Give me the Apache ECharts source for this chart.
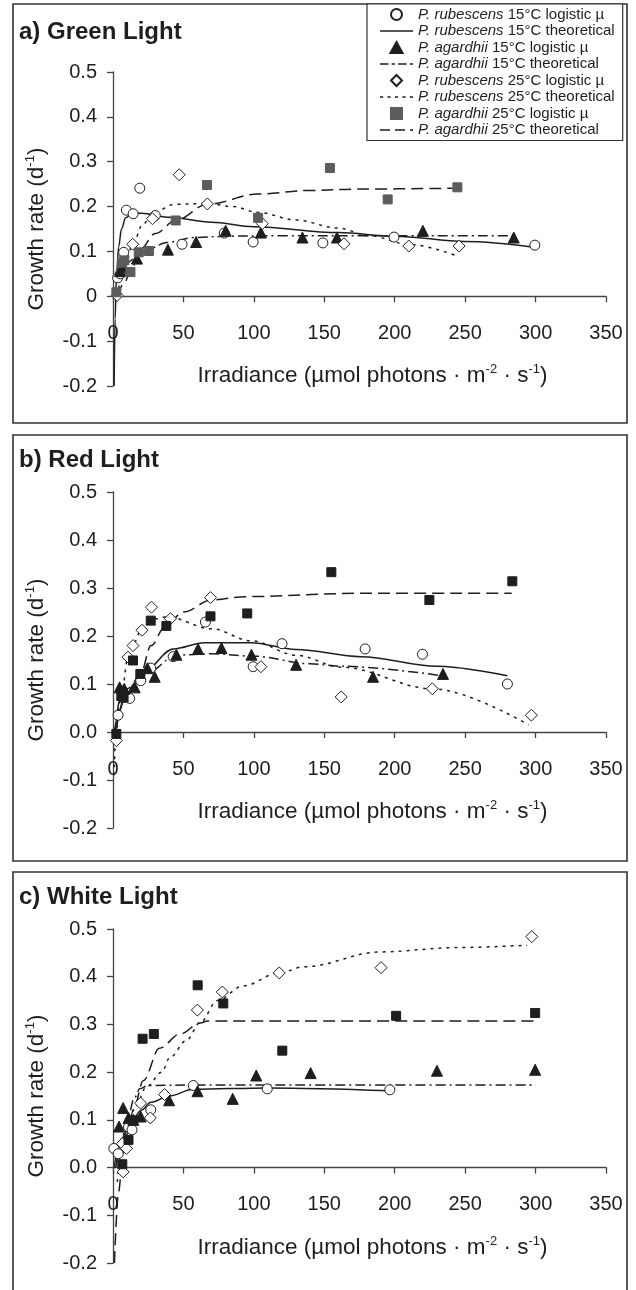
<!DOCTYPE html>
<html><head><meta charset="utf-8">
<script src="https://cdn.jsdelivr.net/npm/echarts@6/dist/echarts.min.js"></script>
<style>html,body{margin:0;padding:0;background:#fff}#c{width:636px;height:1290px}</style>
</head><body><div id="c"></div>
<script>
const FONT = "'Liberation Sans', Arial, Helvetica, sans-serif";
const INK = '#1e1e1e';

const panelTitles = ['a) Green Light', 'b) Red Light', 'c) White Light'];
const seriesNames = [
  'P. rubescens 15°C logistic µ', 'P. rubescens 15°C theoretical',
  'P. agardhii 15°C logistic µ', 'P. agardhii 15°C theoretical',
  'P. rubescens 25°C logistic µ', 'P. rubescens 25°C theoretical',
  'P. agardhii 25°C logistic µ', 'P. agardhii 25°C theoretical'
];
const xMin = 0, xMax = 350, xStep = 50;
const yMin = -0.2, yMax = 0.5, yStep = 0.1;

// ---- a) Green light ----
const greenRub15 = [[3.3,0.041],[5.2,0.05],[7.6,0.098],[9.5,0.192],[14.3,0.184],[19,0.241],[30,0.18],[49,0.116],[79,0.141],[99.5,0.121],[149,0.119],[199.5,0.132],[299.5,0.114]];
const greenAg15 = [[5,0.056],[7,0.065],[17,0.084],[39,0.104],[59,0.121],[80,0.146],[105,0.142],[134.5,0.131],[159,0.131],[220,0.146],[284.5,0.131]];
const greenRub25 = [[3,0.002],[14,0.116],[28,0.173],[47,0.271],[67,0.206],[106,0.162],[164,0.117],[210,0.112],[245.7,0.112]];
const greenAg25 = [[2.4,0.009],[6.4,0.075],[8,0.08],[12.4,0.054],[18.3,0.098],[25.5,0.101],[44.5,0.169],[66.7,0.248],[103,0.175],[154,0.286],[195,0.216],[244.5,0.243]];
const greenRub15Fit = [[0.8,-0.2],[1.5,-0.05],[2.5,0.05],[4,0.11],[6,0.15],[9,0.175],[14,0.186],[20,0.185],[40,0.176],[70,0.165],[100,0.155],[160,0.142],[200,0.134],[250,0.122],[300,0.109]];
const greenAg15Fit = [[3,0.03],[6,0.06],[10,0.075],[17,0.088],[25,0.105],[38,0.12],[58,0.131],[80,0.134],[120,0.135],[200,0.135],[285,0.135]];
const greenRub25Fit = [[3,0.0],[7,0.05],[14,0.115],[21,0.16],[29,0.188],[44,0.205],[67,0.207],[85,0.2],[103,0.187],[130,0.17],[160,0.152],[182,0.135],[210,0.116],[245,0.089]];
const greenAg25Fit = [[3,0.0],[8,0.03],[12.4,0.055],[19.5,0.105],[30,0.14],[44.5,0.169],[67,0.205],[103,0.228],[140,0.236],[174,0.239],[245,0.241]];

// ---- b) Red light ----
const redRub15 = [[3.6,0.035],[8,0.072],[11.8,0.07],[19.7,0.107],[26.8,0.133],[42.7,0.157],[65.6,0.229],[99.5,0.136],[120,0.184],[179,0.173],[219.7,0.162],[280,0.1]];
const redAg15 = [[4.7,0.093],[8,0.09],[15.4,0.093],[24.4,0.133],[29.6,0.115],[45,0.161],[60.4,0.173],[77,0.175],[98.3,0.161],[130,0.14],[184.6,0.115],[234.3,0.121]];
const redRub25 = [[2.4,-0.018],[10.7,0.156],[14.2,0.18],[20.6,0.212],[27.3,0.26],[40.8,0.236],[69.2,0.28],[105,0.136],[162,0.073],[226.7,0.09],[297,0.035]];
const redAg25 = [[2.4,-0.004],[5.9,0.075],[7.5,0.072],[14.2,0.149],[19.4,0.121],[26.8,0.232],[37.9,0.221],[69.2,0.241],[95.3,0.247],[155,0.333],[224.6,0.275],[283.5,0.314]];
const redRub15Fit = [[1,0.0],[4,0.04],[8.3,0.07],[15,0.1],[22.5,0.128],[42.7,0.173],[65,0.186],[98,0.186],[130,0.172],[176,0.157],[230,0.137],[280,0.117]];
const redAg15Fit = [[1.5,0.0],[5,0.07],[10,0.09],[15.4,0.1],[25,0.125],[45,0.16],[70,0.163],[100,0.158],[140,0.142],[162,0.137],[234,0.117]];
const redRub25Fit = [[0.8,-0.09],[2,0.0],[6,0.08],[10.7,0.156],[20,0.21],[31,0.236],[38,0.24],[70,0.215],[98,0.19],[130,0.16],[162,0.135],[227,0.09],[295,0.015]];
const redAg25Fit = [[2,0.0],[8,0.07],[19.4,0.12],[27,0.18],[37,0.22],[50,0.25],[70,0.275],[94,0.282],[176,0.289],[283,0.289]];

// ---- c) White light ----
const whiteRub15 = [[0.6,0.04],[3.7,0.029],[11,0.085],[13.5,0.079],[26.8,0.121],[57,0.172],[109.5,0.165],[196.5,0.163]];
const whiteAg15 = [[4.3,0.086],[7.2,0.125],[11,0.104],[14.4,0.1],[19.6,0.107],[39.8,0.141],[60,0.16],[85,0.144],[101.7,0.193],[140.3,0.198],[230,0.203],[299.7,0.205]];
const whiteRub25 = [[6.6,0.05],[7.2,-0.009],[9.5,0.04],[19.6,0.135],[26.5,0.104],[36.6,0.153],[59.9,0.33],[77.6,0.368],[118,0.408],[190.3,0.419],[297.3,0.484]];
const whiteAg25 = [[6.6,0.007],[11,0.058],[14.4,0.099],[21,0.27],[29,0.28],[60.1,0.382],[78.3,0.344],[120.2,0.245],[201,0.318],[299.7,0.324]];
const whiteRub15Fit = [[1,0.0],[3,0.035],[6,0.06],[11,0.085],[20,0.12],[27,0.137],[40,0.15],[57,0.164],[110,0.167],[197,0.161]];
const whiteAg15Fit = [[2,0.0],[6,0.06],[11,0.11],[15,0.145],[19,0.165],[25,0.172],[60,0.173],[150,0.173],[300,0.173]];
const whiteRub25Fit = [[3,-0.03],[6,0.03],[10,0.08],[16,0.13],[24,0.17],[34.6,0.2],[40.5,0.231],[52,0.266],[62,0.304],[74,0.35],[92.5,0.381],[118,0.408],[136,0.421],[190,0.452],[244,0.461],[294,0.466]];
const whiteAg25Fit = [[1,-0.2],[4,-0.05],[7,0.03],[10,0.07],[14.4,0.12],[21.5,0.182],[33,0.25],[47.6,0.28],[62,0.303],[67,0.307],[150,0.307],[300,0.307]];

const panelObs = [
  [greenRub15, greenAg15, greenRub25, greenAg25],
  [redRub15, redAg15, redRub25, redAg25],
  [whiteRub15, whiteAg15, whiteRub25, whiteAg25]
];
const panelFit = [
  [greenRub15Fit, greenAg15Fit, greenRub25Fit, greenAg25Fit],
  [redRub15Fit, redAg15Fit, redRub25Fit, redAg25Fit],
  [whiteRub15Fit, whiteAg15Fit, whiteRub25Fit, whiteAg25Fit]
];

// layout
const grids = [
  {left: 113, width: 493, top: 72, height: 314},
  {left: 113, width: 493, top: 492, height: 336},
  {left: 113, width: 493, top: 929, height: 334}
];
const boxes = [[13, 4, 614, 419], [13, 435, 614, 426], [13, 872, 614, 440]];
const titleY = [32, 460, 897];

const markers = [
  {symbol: 'circle', size: 10, fill: '#ffffff'},
  {symbol: 'triangle', size: 11, fill: INK},
  {symbol: 'diamond', size: 12, fill: '#ffffff'},
  {symbol: 'rect', size: 9, fill: INK}
];
const lineTypes = ['solid', [10, 4, 2, 4], [3, 5], [12, 6]];
const legendIcons = [
  'circle', 'path://M0,0H33V1.6H0Z',
  'path://M5.5,0L11,10L0,10Z', 'path://M0,0h8v1.6h-8zM11,0h3v1.6h-3zM17,0h8v1.6h-8zM28,0h3v1.6h-3z',
  'path://M5.5,0L11,5.5L5.5,11L0,5.5Z', 'path://M0,0h3v1.6h-3zM7,0h3v1.6h-3zM14,0h3v1.6h-3zM21,0h3v1.6h-3zM28,0h3v1.6h-3z',
  'path://M0,0H9V9H0Z', 'path://M0,0h10v1.6h-10zM15,0h10v1.6h-10zM30,0h3v1.6h-3z'
];

const series = [];
for (let p = 0; p < 3; p++) {
  for (let k = 0; k < 4; k++) {
    const m = markers[k];
    const grey = (k === 3 && p === 0);
    series.push({
      type: 'scatter', name: seriesNames[2 * k], xAxisIndex: p, yAxisIndex: p,
      data: panelObs[p][k], symbol: m.symbol, symbolSize: m.size, z: 4,
      itemStyle: {color: grey ? '#5c5c5c' : m.fill, borderColor: grey ? '#5c5c5c' : INK, borderWidth: 1, opacity: 1}
    });
    series.push({
      type: 'line', name: seriesNames[2 * k + 1], xAxisIndex: p, yAxisIndex: p,
      data: panelFit[p][k], symbol: 'none', smooth: 0.35, smoothMonotone: 'x', z: 3,
      lineStyle: {color: INK, width: 1.5, type: lineTypes[k]},
      itemStyle: {color: INK}
    });
  }
}

const xAxes = grids.map((g, i) => ({
  type: 'value', gridIndex: i, min: xMin, max: xMax, interval: xStep,
  position: 'bottom', offset: -g.height * (0 - yMin) / (yMax - yMin),
  axisLine: {show: true, onZero: false, lineStyle: {color: '#444', width: 1.3}},
  axisTick: {show: true, inside: false, length: 6, lineStyle: {color: '#444', width: 1.3}},
  axisLabel: {fontSize: 20, fontFamily: FONT, color: INK, margin: 27},
  splitLine: {show: false},
  name: 'Irradiance (µmol photons · m{s|-2} · s{s|-1})',
  nameLocation: 'middle', nameGap: 67,
  nameTextStyle: {fontSize: 22.5, fontFamily: FONT, color: INK, padding: [0, 0, 0, 26],
    rich: {s: {fontSize: 13, fontFamily: FONT, color: INK, padding: [0, 0, 13, 0]}}}
}));
const yAxes = grids.map((g, i) => ({
  type: 'value', gridIndex: i, min: yMin, max: yMax, interval: yStep,
  axisLine: {show: true, onZero: false, lineStyle: {color: '#444', width: 1.3}},
  axisTick: {show: true, inside: false, length: 6, lineStyle: {color: '#444', width: 1.3}},
  axisLabel: {fontSize: 20, fontFamily: FONT, color: INK, margin: 16,
    formatter: v => (Math.abs(v) < 1e-9 ? (i === 0 ? '0' : '0.0') : v.toFixed(1))},
  splitLine: {show: false},
  name: 'Growth rate (d{s|-1})',
  nameLocation: 'middle', nameRotate: 90, nameGap: 63,
  nameTextStyle: {fontSize: 22.5, fontFamily: FONT, color: INK,
    rich: {s: {fontSize: 13, fontFamily: FONT, color: INK, padding: [0, 0, 13, 0]}}}
}));

const graphic = [];
boxes.forEach(b => graphic.push({type: 'rect', shape: {x: b[0], y: b[1], width: b[2], height: b[3]},
  style: {fill: 'none', stroke: '#333', lineWidth: 1.6}, z: 0, silent: true}));
panelTitles.forEach((t, i) => graphic.push({type: 'text', x: 19, y: titleY[i],
  style: {text: t, font: 'bold 24px ' + FONT, fill: INK, textVerticalAlign: 'middle', verticalAlign: 'middle'}, z: 5}));

const option = {
  animation: false,
  backgroundColor: '#fff',
  grid: grids,
  xAxis: xAxes,
  yAxis: yAxes,
  series: series,
  graphic: graphic,
  legend: {
    orient: 'vertical', left: 367, top: 4, padding: [3, 8, 3, 13], itemGap: 1.5,
    itemWidth: 33, itemHeight: 11, symbolKeepAspect: true,
    borderColor: '#333', borderWidth: 1.2, backgroundColor: '#fff',
    data: seriesNames.map((n, j) => ({name: n, icon: legendIcons[j]})),
    formatter: name => {
      const m = name.match(/^(P\. \w+)(.*)$/);
      return '{i|' + m[1] + '}{n|' + m[2] + '}';
    },
    textStyle: {fontSize: 15, fontFamily: FONT, color: INK, lineHeight: 15,
      rich: {i: {fontSize: 15, fontStyle: 'italic', fontFamily: FONT, color: INK},
             n: {fontSize: 15, fontFamily: FONT, color: INK}}}
  }
};
const chart = echarts.init(document.getElementById('c'), null, {renderer: 'canvas'});
chart.setOption(option);
</script></body></html>
